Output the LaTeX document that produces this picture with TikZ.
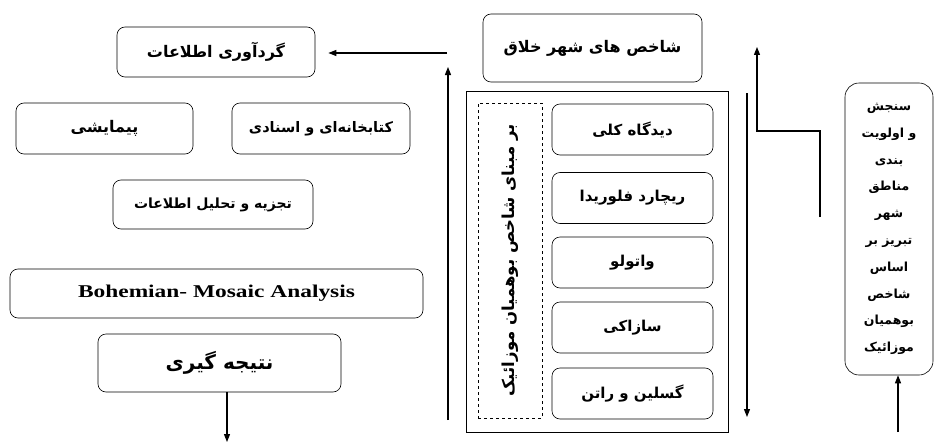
\documentclass[tikz,border=0pt]{standalone}
\usepackage{fontspec}
\usetikzlibrary{arrows.meta}
\setmainfont{Liberation Serif}
\newfontfamily\farsifont[Script=Arabic]{DejaVu Sans}
\newfontfamily\latinfont[FakeStretch=1.3]{Liberation Serif}
\TeXXeTstate=1
\newcommand\fa[1]{{\farsifont\bfseries\beginR #1\endR}}

\begin{document}
\begin{tikzpicture}[%
x=1pt, y=-1pt,
box/.style={draw, rounded corners=8pt, line width=0.6pt, align=center, font=\fontsize{16}{18}\selectfont},
inbox/.style={box, minimum width=161pt, minimum height=51pt, font=\fontsize{15}{17}\selectfont},
conn/.style={line width=1.1pt, -{Triangle[length=8pt,width=6pt]}},
]
\useasboundingbox (0,0) rectangle (934,444);
%% left column;
\node [box, minimum width=198pt, minimum height=50pt] (gather) at (216,52) {\fa{گردآوری اطلاعات}};
\node [box, minimum width=177pt, minimum height=51pt] (survey) at (104.5,128.5) {\fa{پیمایشی}};
\node [box, minimum width=178pt, minimum height=51pt, font=\fontsize{14.5}{17}\selectfont] (library) at (321,128.5) {\fa{کتابخانه‌ای و اسنادی}};
\node [box, minimum width=200pt, minimum height=49pt, font=\fontsize{14}{17}\selectfont] (analysis) at (213,204.5) {\fa{تجزیه و تحلیل اطلاعات}};
\node [box, minimum width=413pt, minimum height=49pt] (bohemian) at (216.5,293.5) {\latinfont\bfseries\fontsize{18}{20}\selectfont Bohemian- Mosaic Analysis};
\node [box, minimum width=243pt, minimum height=58pt, font=\fontsize{20}{22}\selectfont] (result) at (219.5,363) {\fa{نتیجه گیری}};
\coordinate (resultout) at (227,442);
\draw [conn] (result.south -| resultout) -- (resultout);
%% arrows to gather;
\coordinate (risebot) at (448,420);
\coordinate (risetop) at (448,67);
\draw [conn] (risebot) -- (risetop);
\coordinate (gatherin) at (447,53);
\draw [conn, shorten >=13pt] (gatherin) -- (gather.east |- gatherin);
%% indices;
\node [box, minimum width=219pt, minimum height=68pt] (indices) at (592.5,48) {\fa{شاخص های شهر خلاق}};
\draw [line width=0.6pt] (466,91) rectangle (728,432);
\node [draw, dashed, line width=0.7pt, minimum width=64pt, minimum height=315pt] (basis) at (510,260.5) {};
\node [rotate=90, font=\fontsize{16.5}{18}\selectfont] at (basis.center) {\fa{بر مبنای شاخص بوهمیان موزائیک}};
\node [inbox] (view) at (632.5,129.5) {\fa{دیدگاه کلی}};
\node [inbox] (florida) at (632.5,198) {\fa{ریچارد فلوریدا}};
\node [inbox] (waterloo) at (632.5,262.5) {\fa{واتولو}};
\node [inbox] (sasaki) at (632.5,327.5) {\fa{سازاکی}};
\node [inbox] (gosling) at (632.5,393.5) {\fa{گسلین و راتن}};
%% right arrows;
\coordinate (fallin) at (747,93);
\coordinate (fallout) at (747,417);
\draw [conn] (fallin) -- (fallout);
\coordinate (stepa) at (820,217);
\coordinate (stepb) at (757,47);
\draw [conn] (stepa) -- (820,131) -| (stepb);
%% evaluation;
\node [draw, rounded corners=14pt, line width=0.6pt, minimum width=88pt, minimum height=292pt, align=center, font=\fontsize{12.5}{26.8}\selectfont] (evaluate) at (889,229)
{\fa{سنجش}\\\fa{و اولویت}\\\fa{بندی}\\\fa{مناطق}\\\fa{شهر}\\\fa{تبریز بر}\\\fa{اساس}\\\fa{شاخص}\\\fa{بوهمیان}\\\fa{موزائیک}};
\coordinate (evalin) at (898,432);
\draw [conn] (evalin) -- (evalin |- evaluate.south);
\end{tikzpicture}
\end{document}
